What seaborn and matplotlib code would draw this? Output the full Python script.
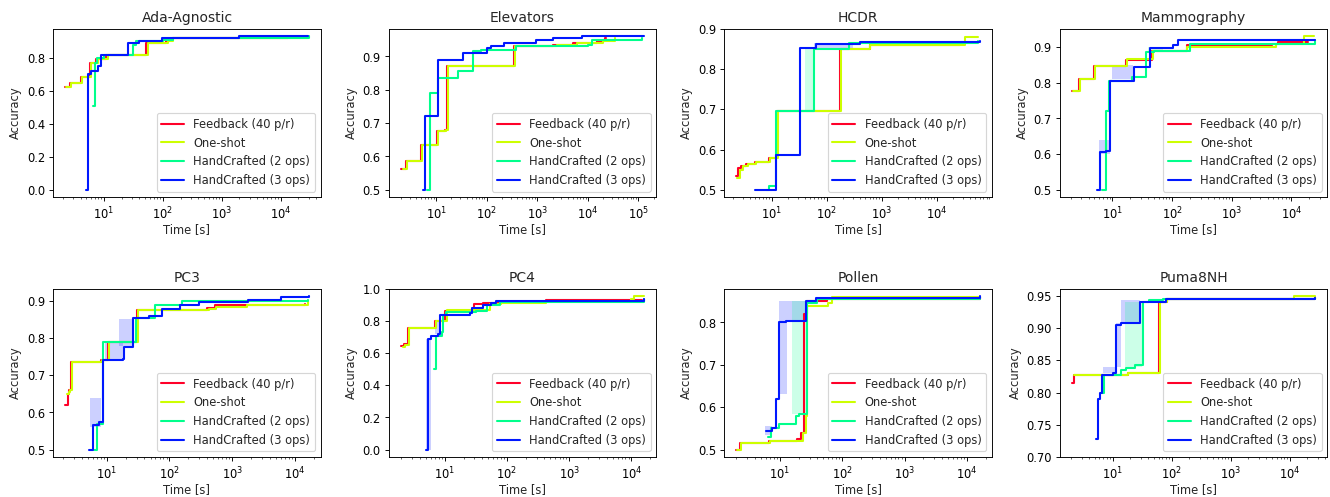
import numpy as np
import pandas as pd
import matplotlib
matplotlib.use('Agg')
import matplotlib.pyplot as plt
import seaborn as sns

# === data: best accuracy so far (step points) per dataset and method ===
# each series: (times [s], accuracy)

ada = {
    'fb': ([2.2, 2.6, 4.1, 5.7, 7.4, 10.9, 52, 112, 145, 13500],
           [0.621, 0.65, 0.685, 0.77, 0.79, 0.815, 0.889, 0.91, 0.92, 0.925]),
    'os': ([2.3, 2.7, 4.3, 6.0, 7.8, 11.5, 55, 120, 150, 28000],
           [0.621, 0.65, 0.685, 0.77, 0.79, 0.815, 0.889, 0.905, 0.92, 0.93]),
    'h2': ([6.5, 7.0, 7.6, 10.0, 31, 35, 100, 150, 30000],
           [0.51, 0.77, 0.80, 0.815, 0.88, 0.90, 0.91, 0.92, 0.93]),
    'h3': ([5.0, 5.3, 6.1, 8.0, 9.0, 25.4, 40, 98, 2000, 29500],
           [0.0, 0.70, 0.72, 0.75, 0.82, 0.89, 0.905, 0.92, 0.93, 0.93]),
}
elevators = {
    'fb': ([2.0, 2.5, 5.0, 10.6, 15, 16.1, 350, 2000, 5000, 15000, 22000, 23000],
           [0.561, 0.585, 0.635, 0.675, 0.68, 0.87, 0.93, 0.935, 0.94, 0.945, 0.955, 0.955]),
    'os': ([2.2, 2.6, 5.3, 11.0, 15.5, 16.8, 370, 2500, 6000, 20000, 34000],
           [0.561, 0.585, 0.635, 0.675, 0.68, 0.87, 0.93, 0.935, 0.94, 0.945, 0.955]),
    'h2': ([6.6, 7.6, 11, 27, 54, 78, 380, 10000, 12000, 120000],
           [0.5, 0.79, 0.835, 0.855, 0.915, 0.92, 0.93, 0.935, 0.95, 0.955]),
    'h3': ([5.5, 6.1, 11, 34, 100, 120, 220, 930, 2000, 7700, 130000],
           [0.5, 0.72, 0.89, 0.91, 0.925, 0.93, 0.94, 0.95, 0.955, 0.96, 0.96]),
}
hcdr = {
    'fb': ([2.3, 2.5, 2.8, 3.5, 4.9, 9.0, 12.6, 176, 600, 26000],
           [0.534, 0.555, 0.56, 0.565, 0.57, 0.58, 0.695, 0.85, 0.86, 0.86]),
    'os': ([2.4, 2.7, 3.0, 3.7, 5.2, 9.5, 13.0, 180, 620, 32000, 55000],
           [0.53, 0.55, 0.56, 0.565, 0.57, 0.58, 0.695, 0.85, 0.86, 0.88, 0.88]),
    'h2': ([7.8, 9.0, 11.8, 60, 260, 55000],
           [0.50, 0.51, 0.695, 0.85, 0.865, 0.87]),
    'h3': ([5.0, 12.0, 33, 65, 400, 60000],
           [0.50, 0.587, 0.852, 0.862, 0.868, 0.87]),
}
mammography = {
    'fb': ([2.1, 2.8, 5.0, 16.7, 46, 175, 4800, 6000, 19000],
           [0.778, 0.81, 0.848, 0.865, 0.89, 0.905, 0.91, 0.915, 0.915]),
    'os': ([2.2, 2.9, 5.2, 17.5, 48, 180, 5500, 16000, 24000],
           [0.778, 0.81, 0.848, 0.868, 0.89, 0.9, 0.91, 0.93, 0.93]),
    'h2': ([6.8, 7.7, 8.8, 21, 36, 49, 200, 25000],
           [0.5, 0.72, 0.805, 0.815, 0.885, 0.89, 0.91, 0.92]),
    'h3': ([5.6, 6.2, 7.8, 9.2, 23, 43, 105, 127, 25000],
           [0.5, 0.605, 0.61, 0.805, 0.843, 0.897, 0.905, 0.92, 0.92]),
}
pc3 = {
    'fb': ([2.2, 2.4, 2.5, 2.7, 8.1, 10.4, 31, 400, 540, 1600, 14500],
           [0.621, 0.65, 0.66, 0.735, 0.74, 0.79, 0.875, 0.882, 0.888, 0.89, 0.893]),
    'os': ([2.3, 2.5, 2.6, 2.8, 8.4, 10.8, 32, 420, 560, 1700, 16000],
           [0.65, 0.655, 0.66, 0.735, 0.74, 0.79, 0.875, 0.878, 0.885, 0.89, 0.90]),
    'h2': ([6.2, 7.0, 8.6, 29, 60, 160, 16000],
           [0.5, 0.57, 0.79, 0.855, 0.89, 0.90, 0.903]),
    'h3': ([5.3, 6.0, 7.6, 8.9, 18, 19, 26, 47, 77, 150, 300, 1800, 6000, 16500],
           [0.5, 0.565, 0.575, 0.74, 0.745, 0.775, 0.853, 0.86, 0.878, 0.89, 0.897,
            0.903, 0.91, 0.913]),
}
pc4 = {
    'fb': ([1.97, 2.2, 2.6, 6.1, 6.9, 10, 30, 41, 53, 67, 430, 15000],
           [0.642, 0.655, 0.755, 0.76, 0.80, 0.865, 0.905, 0.91, 0.915, 0.92, 0.93, 0.93]),
    'os': ([2.1, 2.3, 2.7, 6.3, 7.2, 11, 53, 80, 420, 10000, 11000, 16000],
           [0.64, 0.65, 0.755, 0.76, 0.80, 0.87, 0.905, 0.91, 0.925, 0.94, 0.955, 0.955]),
    'h2': ([6.7, 7.2, 9.0, 9.4, 10.6, 32, 47, 76, 16000],
           [0.5, 0.71, 0.73, 0.84, 0.855, 0.86, 0.90, 0.92, 0.935]),
    'h3': ([5.0, 5.3, 6.1, 7.8, 8.3, 25, 27, 41, 56, 67, 16000],
           [0.0, 0.69, 0.71, 0.72, 0.84, 0.85, 0.88, 0.90, 0.915, 0.925, 0.935]),
}
pollen = {
    'fb': ([2.02, 2.3, 6.7, 19.2, 21.7, 24.6, 27.1, 58, 16000],
           [0.50, 0.515, 0.52, 0.525, 0.54, 0.82, 0.85, 0.855, 0.86]),
    'os': ([2.1, 2.4, 7.0, 20, 23.5, 26, 27.5, 60, 70, 16000],
           [0.50, 0.515, 0.52, 0.52, 0.54, 0.58, 0.84, 0.845, 0.86, 0.86]),
    'h2': ([6.6, 7.2, 9.8, 18, 20, 27.8, 40, 16000],
           [0.53, 0.55, 0.56, 0.58, 0.585, 0.845, 0.855, 0.86]),
    'h3': ([6.0, 7.6, 8.6, 9.8, 12.5, 26, 38, 16000],
           [0.545, 0.55, 0.62, 0.80, 0.803, 0.85, 0.857, 0.862]),
}
puma = {
    'fb': ([2.05, 2.2, 18.4, 62, 82, 27000],
           [0.815, 0.828, 0.83, 0.94, 0.945, 0.948]),
    'os': ([2.2, 18.4, 63, 82, 12000, 27000],
           [0.828, 0.83, 0.94, 0.945, 0.95, 0.95]),
    'h2': ([6.7, 7.1, 14, 17, 24, 32.5, 41, 71, 27000],
           [0.80, 0.828, 0.835, 0.838, 0.843, 0.94, 0.943, 0.945, 0.947]),
    'h3': ([5.3, 5.6, 6.2, 6.7, 10, 11.4, 14, 29.5, 81, 27000],
           [0.728, 0.79, 0.80, 0.828, 0.83, 0.905, 0.908, 0.94, 0.945, 0.947]),
}

# shaded spread between runs: (method, t_start, t_end, low, high)
bands = {
    'HCDR': [('h2', 40, 60, 0.695, 0.85), ('h3', 60, 300, 0.85, 0.865)],
    'Mammography': [('h3', 6.0, 9.0, 0.6, 0.64), ('h3', 10, 22, 0.81, 0.85),
                    ('h2', 40, 70, 0.885, 0.9)],
    'PC3': [('h3', 5.5, 8.0, 0.56, 0.64), ('h3', 9.5, 18, 0.745, 0.79),
            ('h3', 16, 26, 0.78, 0.852)],
    'PC4': [('h3', 5.0, 6.0, 0.0, 0.69), ('h3', 7.0, 8.5, 0.72, 0.8)],
    'Pollen': [('h3', 9.8, 13, 0.63, 0.85), ('h3', 13, 26, 0.803, 0.85),
               ('h2', 15.5, 28, 0.585, 0.85), ('h3', 5.8, 7.6, 0.535, 0.555)],
    'Puma8NH': [('h3', 11.4, 14, 0.84, 0.908), ('h3', 14, 29.5, 0.908, 0.943),
                ('h2', 16, 32, 0.84, 0.94), ('h3', 7, 12, 0.83, 0.84)],
}

datasets = ['Ada-Agnostic', 'Elevators', 'HCDR', 'Mammography',
            'PC3', 'PC4', 'Pollen', 'Puma8NH']
runs = [ada, elevators, hcdr, mammography, pc3, pc4, pollen, puma]

methods = ['fb', 'os', 'h2', 'h3']
method_names = ['Feedback (40 p/r)', 'One-shot', 'HandCrafted (2 ops)', 'HandCrafted (3 ops)']

yticks = [
    [0.0, 0.2, 0.4, 0.6, 0.8],
    [0.5, 0.6, 0.7, 0.8, 0.9],
    [0.5, 0.6, 0.7, 0.8, 0.9],
    [0.5, 0.6, 0.7, 0.8, 0.9],
    [0.5, 0.6, 0.7, 0.8, 0.9],
    [0.0, 0.2, 0.4, 0.6, 0.8, 1.0],
    [0.5, 0.6, 0.7, 0.8],
    [0.70, 0.75, 0.80, 0.85, 0.90, 0.95],
]
ytick_fmt = ['%.1f'] * 7 + ['%.2f']

# === plotting ===
sns.set_style('ticks')
plt.rcParams['font.family'] = ['DejaVu Sans']

cmap = plt.get_cmap('gist_rainbow')
colors = [cmap(v) for v in [0.0, 0.25, 0.5, 0.75]]
palette = dict(zip(method_names, colors))

# drawn at 16x6 in and scaled down, like the original
fig, axes = plt.subplots(2, 4, figsize=(16, 5.98), dpi=83.125)
fig.subplots_adjust(left=0.04, right=0.998, top=0.942, bottom=0.08,
                     wspace=0.254, hspace=0.54)

for ax, name, run, ticks, fmt in zip(axes.flat, datasets, runs, yticks, ytick_fmt):
    rows = []
    for m, label in zip(methods, method_names):
        t, acc = run[m]
        for ti, ai in zip(t, acc):
            rows.append({'Time': ti, 'Accuracy': ai, 'Method': label})
    df = pd.DataFrame(rows)

    for m, t0, t1, lo, hi in bands.get(name, []):
        c = palette[method_names[methods.index(m)]]
        ax.fill_between([t0, t1], [lo, lo], [hi, hi], color=c, alpha=0.2, lw=0)

    sns.lineplot(data=df, x='Time', y='Accuracy', hue='Method', palette=palette,
                 hue_order=method_names, drawstyle='steps-post', estimator=None,
                 sort=False, lw=1.8, ax=ax)
    ax.set_xscale('log')
    ax.set_yticks(ticks)
    ax.yaxis.set_major_formatter(matplotlib.ticker.FormatStrFormatter(fmt))
    ax.set_xlabel('Time [s]', labelpad=1)
    ax.set_ylabel('Accuracy')
    ax.set_title(name, fontsize=12)
    ax.tick_params(labelsize=10, colors='black')
    ax.legend(loc='lower right', fontsize=10, title=None, framealpha=0.8)
    for s in ax.spines.values():
        s.set_edgecolor('black')

fig.savefig('out.png', dpi=83.125)
